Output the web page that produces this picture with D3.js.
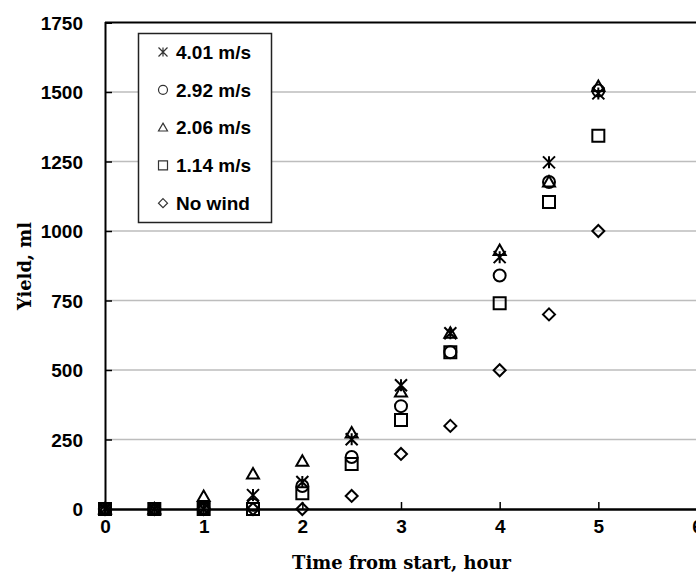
<!DOCTYPE html>
<html><head><meta charset="utf-8">
<script src="https://cdn.jsdelivr.net/npm/d3@7"></script>
<style>body{margin:0;background:#fff}svg{display:block}</style>
</head><body>
<svg id="c" width="696" height="574"></svg>
<script>
const times = [0, 0.5, 1, 1.5, 2, 2.5, 3, 3.5, 4, 4.5, 5];
const wind401 = [0, 0, 0, 50, 97, 251, 445, 632, 906, 1247, 1495];
const wind292 = [0, 0, 0, 15, 83, 187, 370, 564, 840, 1176, 1505];
const wind206 = [0, 0, 45, 126, 172, 273, 421, 632, 930, 1176, 1520];
const wind114 = [0, 0, 0, 0, 57, 162, 320, 564, 740, 1104, 1343];
const noWind  = [0, 0, 0, 0, 0, 47, 198, 299, 499, 700, 1000];
const seriesNames = ["4.01 m/s", "2.92 m/s", "2.06 m/s", "1.14 m/s", "No wind"];
const seriesShapes = ["asterisk", "circle", "triangle", "square", "diamond"];
const xTicks = [0, 1, 2, 3, 4, 5, 6];
const yTicks = [0, 250, 500, 750, 1000, 1250, 1500, 1750];

const series = [wind401, wind292, wind206, wind114, noWind].map((v, i) => ({
  name: seriesNames[i], shape: seriesShapes[i], values: v
}));

const svg = d3.select("#c");
const x = d3.scaleLinear().domain([0, 6]).range([105, 697]);
const y = d3.scaleLinear().domain([0, 1750]).range([509, 22.5]);

// gridlines
svg.append("g").selectAll("line").data(yTicks.filter(d => d > 0 && d < 1750)).join("line")
  .attr("x1", x(0)).attr("x2", x(6)).attr("y1", d => y(d)).attr("y2", d => y(d))
  .attr("stroke", "#bdbdbd").attr("stroke-width", 1.5);

// top border
svg.append("line").attr("x1", x(0)).attr("x2", x(6)).attr("y1", y(1750)).attr("y2", y(1750))
  .attr("stroke", "#000").attr("stroke-width", 2);

// axes
const yAxis = d3.axisLeft(y).tickValues(yTicks).tickSize(-7).tickPadding(22).tickFormat(d3.format("d"));
const gy = svg.append("g").attr("transform", `translate(${x(0)},0)`).call(yAxis);
gy.select(".domain").attr("stroke", "#000").attr("stroke-width", 2);
gy.selectAll(".tick line").attr("stroke", "#000").attr("stroke-width", 1.5);
gy.selectAll(".tick text").attr("font-family", "Liberation Sans, Arial, sans-serif")
  .attr("font-weight", "bold").attr("font-size", 19).attr("fill", "#000").attr("dy", "0.36em");

const xAxis = d3.axisBottom(x).tickValues(xTicks).tickSize(-7).tickPadding(22).tickFormat(d3.format("d"));
const gx = svg.append("g").attr("transform", `translate(0,${y(0)})`).call(xAxis);
gx.select(".domain").attr("stroke", "#000").attr("stroke-width", 2.5);
gx.selectAll(".tick line").attr("stroke", "#000").attr("stroke-width", 1.5);
gx.selectAll(".tick text").attr("font-family", "Liberation Sans, Arial, sans-serif")
  .attr("font-weight", "bold").attr("font-size", 19).attr("fill", "#000").attr("dy", "0.1em");

// marker paths
function markerPath(shape, s) {
  const h = s / 2;
  switch (shape) {
    case "square": return `M${-h},${-h}H${h}V${h}H${-h}Z`;
    case "circle": return `M${h},0A${h},${h} 0 1,1 ${-h},0A${h},${h} 0 1,1 ${h},0Z`;
    case "triangle": return `M0,${-h}L${h},${h * 0.75}L${-h},${h * 0.75}Z`;
    case "diamond": return `M0,${-h}L${h},0L0,${h}L${-h},0Z`;
    case "asterisk": return `M${-h},${-h}L${h},${h}M${-h},${h}L${h},${-h}M0,${-h}V${h}`;
  }
}

const plot = svg.append("g");
series.forEach(s => {
  plot.append("g").selectAll("path").data(s.values.map((v, i) => [times[i], v])).join("path")
    .attr("transform", d => `translate(${x(d[0])},${y(d[1])})`)
    .attr("d", markerPath(s.shape, 12))
    .attr("fill", "none").attr("stroke", "#000").attr("stroke-width", 2);
});

// legend
const lg = svg.append("g");
lg.append("rect").attr("x", 138.5).attr("y", 33.5).attr("width", 133).attr("height", 189)
  .attr("fill", "#fff").attr("stroke", "#222").attr("stroke-width", 1.5);
series.forEach((s, i) => {
  const cy = 52 + i * 37.8;
  lg.append("path").attr("transform", `translate(163,${cy})`).attr("d", markerPath(s.shape, 9))
    .attr("fill", "none").attr("stroke", "#333").attr("stroke-width", 1.2);
  lg.append("text").attr("x", 176).attr("y", cy).attr("dy", "0.36em")
    .attr("font-family", "Liberation Sans, Arial, sans-serif").attr("font-weight", "bold")
    .attr("font-size", 19).attr("fill", "#000").text(s.name);
});

// axis titles
function fitText(sel, target) {
  const w = sel.node().getComputedTextLength();
  const fs = parseFloat(sel.attr("font-size"));
  sel.attr("font-size", fs * target / w);
}
const xt = svg.append("text").attr("x", 401.5).attr("y", 569).attr("text-anchor", "middle")
  .attr("font-family", "DejaVu Serif, serif").attr("font-weight", "bold").attr("font-size", 18)
  .attr("fill", "#000").text("Time from start, hour");
fitText(xt, 219);
const yt = svg.append("text").attr("transform", `translate(31,266) rotate(-90)`).attr("text-anchor", "middle")
  .attr("font-family", "DejaVu Serif, serif").attr("font-weight", "bold").attr("font-size", 18)
  .attr("fill", "#000").text("Yield, ml");
fitText(yt, 88);
</script>
</body></html>
